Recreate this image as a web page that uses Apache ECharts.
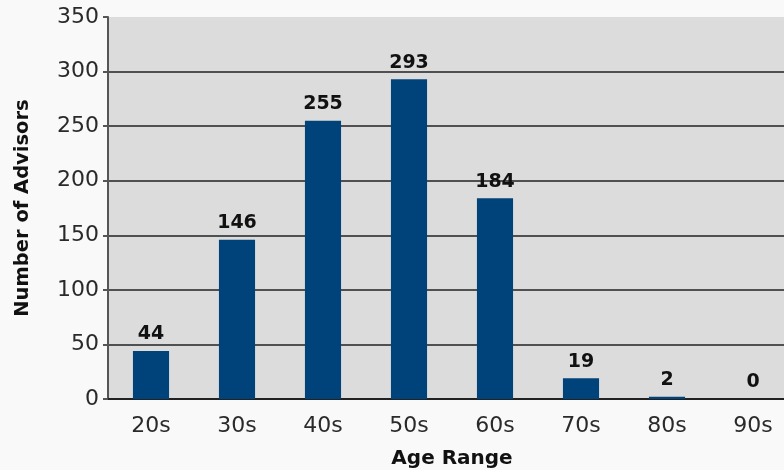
<!DOCTYPE html>
<html><head><meta charset="utf-8">
<script src="https://cdn.jsdelivr.net/npm/echarts@6/dist/echarts.min.js"></script>
<style>html,body{margin:0;padding:0;background:#f9f9f9;}#c{width:784px;height:470px;}</style>
</head><body><div id="c"></div>
<script>
const categories = ['20s','30s','40s','50s','60s','70s','80s','90s'];
const advisors = [44,146,255,293,184,19,2,0];
const yMin = 0, yMax = 350, yStep = 50;
const xTitle = 'Age Range';
const yTitle = 'Number of Advisors';

const tickFont = '"DejaVu Sans", sans-serif';
const boldFont = '"DejaVu Sans", sans-serif';
const chart = echarts.init(document.getElementById('c'));
chart.setOption({
  backgroundColor: '#f9f9f9',
  animation: false,
  grid: {left: 108, right: -12, top: 17, bottom: 71, show: true, backgroundColor: '#dcdcdc', borderWidth: 0,
         containLabel: false, outerBoundsMode: 'none'},
  xAxis: {
    type: 'category', data: categories,
    name: xTitle, nameLocation: 'middle', nameGap: 50,
    nameTextStyle: {fontFamily: boldFont, fontWeight: 'bold', fontSize: 20, color: '#111'},
    axisLine: {lineStyle: {color: '#222', width: 2}},
    axisTick: {show: false},
    axisLabel: {fontFamily: tickFont, fontSize: 22, color: '#2a2a2a', margin: 16}
  },
  yAxis: {
    type: 'value', min: yMin, max: yMax, interval: yStep,
    name: yTitle, nameLocation: 'middle', nameGap: 75, nameRotate: 90,
    nameTextStyle: {fontFamily: boldFont, fontWeight: 'bold', fontSize: 19.5, color: '#111'},
    axisLine: {show: true, lineStyle: {color: '#555', width: 2}},
    axisTick: {show: true, length: 5, lineStyle: {color: '#555', width: 2}},
    axisLabel: {fontFamily: tickFont, fontSize: 22, color: '#2a2a2a', margin: 9},
    splitLine: {show: true, lineStyle: {color: ['#222','#222','#222','#222','#222','#222','#222','rgba(0,0,0,0)'], width: 1.5}}
  },
  series: [{
    type: 'bar', data: advisors, barWidth: '42%',
    itemStyle: {color: '#00437a'},
    label: {show: true, position: 'top', distance: 7, fontFamily: boldFont, fontWeight: 'bold', fontSize: 19, color: '#111'}
  }]
});
</script></body></html>
